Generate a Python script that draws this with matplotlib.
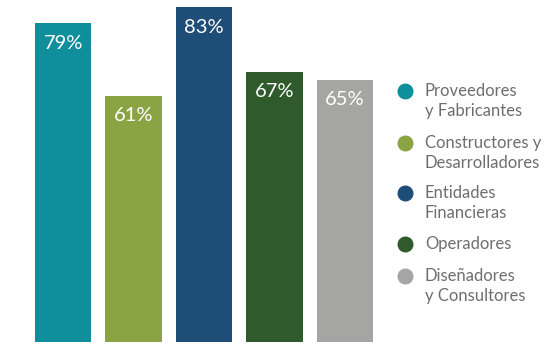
import matplotlib
matplotlib.use("Agg")
import matplotlib.pyplot as plt

categories = ["Proveedores\ny Fabricantes", "Constructores y\nDesarrolladores",
              "Entidades\nFinancieras", "Operadores", "Diseñadores\ny Consultores"]
values = [79, 61, 83, 67, 65]
labels = ["79%", "61%", "83%", "67%", "65%"]
colors = ["#0F8E9C", "#8AA443", "#1E4D78", "#2F5A2C", "#A5A5A3"]

W, H = 555, 346
fig = plt.figure(figsize=(W / 100, H / 100), dpi=100)
fig.patch.set_facecolor("white")

ax = fig.add_axes([35 / W, (H - 342) / H, (373 - 35) / W, 335 / H])
x = list(range(len(values)))
ax.bar(x, values, width=0.8, color=colors)
ax.set_xlim(-0.4, 4.4)
ax.set_ylim(0, 83)
ax.axis("off")

for xi, v, lab in zip(x, values, labels):
    ax.annotate(lab, (xi, v), xytext=(0, -14.5), textcoords="offset points",
                ha="center", va="center", color="white", fontsize=14.5,
                family="Lato")

# legend (manual, markers aligned with first text line)
rows_y = [91, 143, 193, 244, 276]
for c, cat, yy in zip(colors, categories, rows_y):
    fig.add_artist(plt.Line2D([405 / W], [1 - yy / H], marker="o", markersize=10.5,
                              color=c, linestyle="none", transform=fig.transFigure))
    for i, line in enumerate(cat.split("\n")):
        fig.text(425 / W, 1 - (yy + 5 + 20 * i) / H, line, ha="left", va="baseline",
                 color="#6E6E6E", fontsize=12, family="Lato")

fig.savefig("out.png", dpi=100, facecolor="white")
